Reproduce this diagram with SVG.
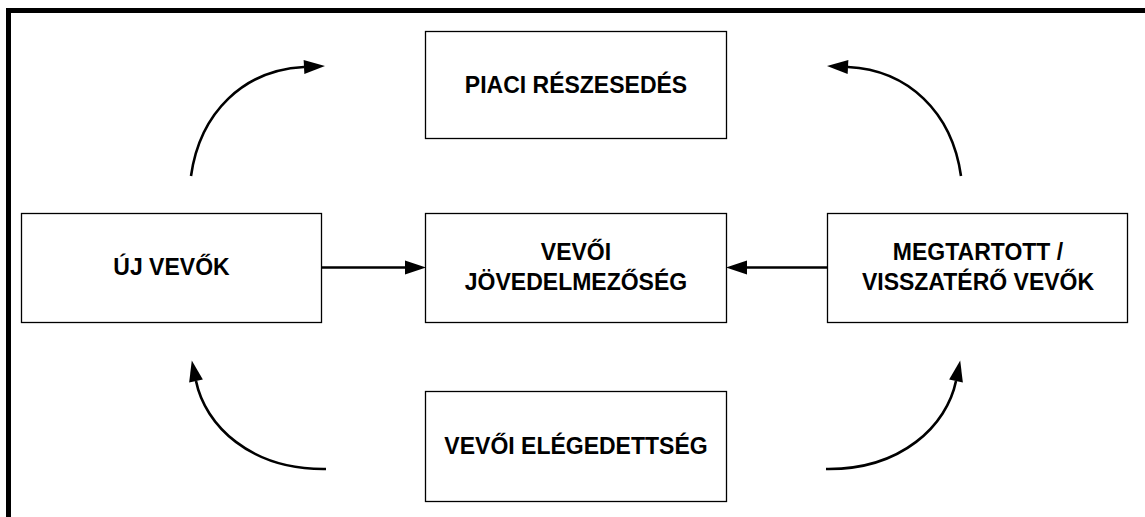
<svg xmlns="http://www.w3.org/2000/svg" width="1145" height="517" viewBox="0 0 1145 517">
<style>
.box{fill:#fff;stroke:#000;stroke-width:1.3}
.lbl{font-family:"Liberation Sans",Arial,sans-serif;font-weight:bold;font-size:23px;fill:#000;text-anchor:middle}
.con{fill:none;stroke:#000;stroke-width:2.6}
</style>
<defs>
<marker id="ah" markerUnits="userSpaceOnUse" markerWidth="22" markerHeight="16" refX="0" refY="7" orient="auto" overflow="visible">
<path d="M0,0 L21,7 L0,14 Z" fill="#000"/>
</marker>
</defs>
<rect width="1145" height="517" fill="#fff"/>
<g id="frame">
<rect x="6" y="8" width="1139" height="5" fill="#000"/>
<rect x="6" y="8" width="5" height="509" fill="#000"/>
</g>
<g id="connectors">
<path class="con" d="M191,176 C200,112 244,70 304,67" marker-end="url(#ah)"/>
<path class="con" d="M961,176 C952,112 908,70 848,67" marker-end="url(#ah)"/>
<path class="con" d="M326,469 C250,470 205,425 196,381" marker-end="url(#ah)"/>
<path class="con" d="M826,469 C902,470 947,425 956,381" marker-end="url(#ah)"/>
<path class="con" d="M321,267.5 L405,267.5" marker-end="url(#ah)"/>
<path class="con" d="M828,267.5 L747,267.5" marker-end="url(#ah)"/>
</g>
<g id="piaci">
<rect class="box" x="425.5" y="31.5" width="301" height="107"/>
<text class="lbl" x="576" y="93">PIACI RÉSZESEDÉS</text>
</g>
<g id="uj">
<rect class="box" x="21.5" y="213.5" width="300" height="109"/>
<text class="lbl" x="171.5" y="274.5">ÚJ VEVŐK</text>
</g>
<g id="jovedelem">
<rect class="box" x="425.5" y="213.5" width="301" height="109"/>
<text class="lbl" x="576" y="259.5">VEVŐI</text>
<text class="lbl" x="576" y="289.5">JÖVEDELMEZŐSÉG</text>
</g>
<g id="megtartott">
<rect class="box" x="827.5" y="213.5" width="300" height="109"/>
<text class="lbl" x="978" y="259.5">MEGTARTOTT /</text>
<text class="lbl" x="978" y="289.5">VISSZATÉRŐ VEVŐK</text>
</g>
<g id="elegedettseg">
<rect class="box" x="425.5" y="391.5" width="301" height="110"/>
<text class="lbl" x="576" y="454">VEVŐI ELÉGEDETTSÉG</text>
</g>
</svg>
